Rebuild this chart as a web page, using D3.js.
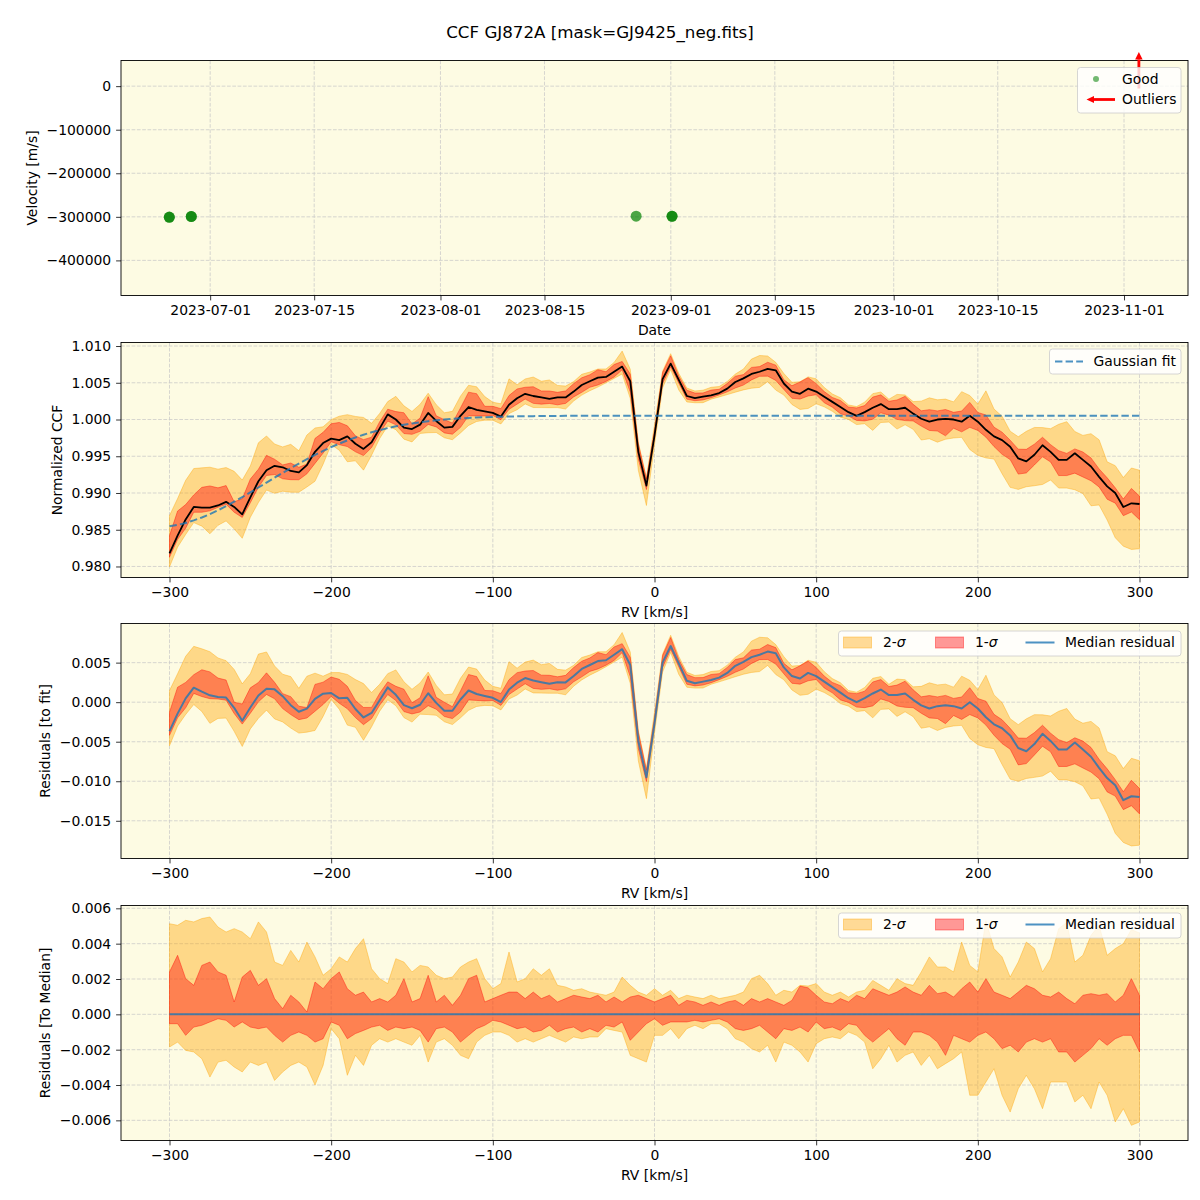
<!DOCTYPE html>
<html><head><meta charset="utf-8">
<script src="https://cdn.jsdelivr.net/npm/d3@7"></script>
<style>body{margin:0;background:#fff} text{font-family:"DejaVu Sans",sans-serif}</style>
</head><body><svg id="c" width="1200" height="1200"></svg>
<script>
// ---------------- DATA ----------------
const rv = [-300,-295,-290,-285,-280,-275,-270,-265,-260,-255,-250,-245,-240,-235,-230,-225,-220,-215,-210,-205,
-200,-195,-190,-185,-180,-175,-170,-165,-160,-155,-150,-145,-140,-135,-130,-125,-120,-115,-110,-105,
-100,-95,-90,-85,-80,-75,-70,-65,-60,-55,-50,-45,-40,-35,-30,-25,-20,-15,-10,-5,
0,5,10,15,20,25,30,35,40,45,50,55,60,65,70,75,80,85,90,95,
100,105,110,115,120,125,130,135,140,145,150,155,160,165,170,175,180,185,190,195,
200,205,210,215,220,225,230,235,240,245,250,255,260,265,270,275,280,285,290,295,300];

const ccfMedian = [0.9818,0.9842,0.9864,0.9881,0.9880,0.9880,0.9883,0.9888,0.9881,0.9871,0.9894,0.9916,0.9931,0.9937,0.9935,0.9930,0.9928,0.9938,0.9956,0.9968,
0.9974,0.9972,0.9977,0.9967,0.9960,0.9969,0.9988,1.0007,1.0000,0.9989,0.9987,0.9993,1.0009,0.9998,0.9989,0.9990,1.0005,1.0017,1.0013,1.0011,
1.0009,1.0004,1.0020,1.0029,1.0035,1.0032,1.0030,1.0028,1.0030,1.0030,1.0038,1.0047,1.0052,1.0057,1.0058,1.0065,1.0072,1.0052,0.9956,0.9910,
0.9978,1.0055,1.0076,1.0054,1.0032,1.0029,1.0031,1.0033,1.0036,1.0042,1.0051,1.0056,1.0062,1.0065,1.0069,1.0067,1.0049,1.0038,1.0035,1.0042,
1.0038,1.0031,1.0024,1.0017,1.0010,1.0005,1.0010,1.0016,1.0021,1.0014,1.0014,1.0016,1.0008,1.0001,0.9997,1.0000,1.0001,1.0000,0.9997,1.0005,
0.9997,0.9986,0.9977,0.9972,0.9963,0.9947,0.9943,0.9952,0.9965,0.9956,0.9945,0.9945,0.9954,0.9945,0.9936,0.9922,0.9909,0.9900,0.9881,0.9886,0.9885];

const gaussFit = [0.98546,0.98565,0.98592,0.98627,0.98667,0.98713,0.98765,0.98821,0.98881,0.98944,0.99008,0.99075,0.99141,0.99208,0.99274,0.99338,0.99401,0.99461,0.99518,0.99572,
0.99624,0.99671,0.99715,0.99756,0.99793,0.99826,0.99856,0.99883,0.99907,0.99928,0.99947,0.99963,0.99977,0.99989,0.99999,1.00008,1.00016,1.00022,1.00027,1.00032,
1.00035,1.00038,1.00041,1.00043,1.00045,1.00046,1.00047,1.00048,1.00049,1.0005,1.0005,1.0005,1.0005,1.0005,1.0005,1.0005,1.0005,1.0005,1.0005,1.0005,
1.0005,1.0005,1.0005,1.0005,1.0005,1.0005,1.0005,1.0005,1.0005,1.0005,1.0005,1.0005,1.0005,1.0005,1.0005,1.0005,1.0005,1.0005,1.0005,1.0005,
1.0005,1.0005,1.0005,1.0005,1.0005,1.0005,1.0005,1.0005,1.0005,1.0005,1.0005,1.0005,1.0005,1.0005,1.0005,1.0005,1.0005,1.0005,1.0005,1.0005,
1.0005,1.0005,1.0005,1.0005,1.0005,1.0005,1.0005,1.0005,1.0005,1.0005,1.0005,1.0005,1.0005,1.0005,1.0005,1.0005,1.0005,1.0005,1.0005,1.0005,1.0005];

// band edges relative to the median (as in the "To Median" panel)
const sig2Upper = [0.00513,0.00504,0.00532,0.00523,0.00542,0.00551,0.00494,0.00466,0.00485,0.00466,0.00428,0.00523,0.00466,0.00296,0.00277,0.00362,0.00296,0.00409,0.00325,0.00221,
0.00258,0.00325,0.00296,0.00372,0.00428,0.00258,0.00202,0.00174,0.00315,0.00296,0.00240,0.00277,0.00268,0.00221,0.00202,0.00211,0.00268,0.00296,0.00315,0.00202,
0.00145,0.00174,0.00353,0.00183,0.00202,0.00258,0.00221,0.00258,0.00164,0.00155,0.00136,0.00145,0.00126,0.00117,0.00108,0.00126,0.00211,0.00164,0.00126,0.00108,
0.00145,0.00108,0.00136,0.00089,0.00108,0.00098,0.00089,0.00108,0.00089,0.00098,0.00108,0.00126,0.00202,0.00221,0.00174,0.00108,0.00136,0.00126,0.00164,0.00160,
0.00174,0.00126,0.00108,0.00126,0.00098,0.00126,0.00136,0.00192,0.00164,0.00136,0.00202,0.00174,0.00164,0.00240,0.00325,0.00268,0.00268,0.00240,0.00409,0.00277,
0.00240,0.00530,0.00372,0.00325,0.00211,0.00296,0.00409,0.00372,0.00240,0.00315,0.00485,0.00520,0.00296,0.00334,0.00447,0.00504,0.00334,0.00372,0.00400,0.00480,0.00460];
const sig1Upper = [0.00240,0.00334,0.00202,0.00164,0.00277,0.00296,0.00240,0.00221,0.00070,0.00211,0.00249,0.00164,0.00202,0.00089,0.00032,0.00108,0.00070,0.00013,0.00183,0.00145,
0.00202,0.00240,0.00145,0.00108,0.00126,0.00070,0.00089,0.00070,0.00108,0.00202,0.00070,0.00089,0.00221,0.00070,0.00108,0.00051,0.00108,0.00202,0.00221,0.00070,
0.00089,0.00108,0.00126,0.00126,0.00089,0.00126,0.00089,0.00108,0.00070,0.00089,0.00108,0.00098,0.00089,0.00108,0.00070,0.00098,0.00070,0.00098,0.00108,0.00089,
0.00070,0.00089,0.00108,0.00051,0.00079,0.00070,0.00051,0.00070,0.00051,0.00070,0.00079,0.00051,0.00089,0.00070,0.00089,0.00070,0.00051,0.00079,0.00160,0.00150,
0.00108,0.00070,0.00060,0.00089,0.00070,0.00108,0.00089,0.00145,0.00126,0.00108,0.00126,0.00155,0.00126,0.00108,0.00164,0.00117,0.00126,0.00098,0.00145,0.00183,
0.00126,0.00202,0.00126,0.00108,0.00089,0.00126,0.00164,0.00145,0.00108,0.00098,0.00126,0.00089,0.00060,0.00108,0.00117,0.00108,0.00117,0.00070,0.00108,0.00202,0.00108];
const sig1Lower = [-0.00053,-0.00053,-0.00119,-0.00072,-0.00062,-0.00043,-0.00025,-0.00034,-0.00072,-0.00043,-0.00072,-0.00081,-0.00072,-0.00119,-0.00157,-0.00119,-0.00100,-0.00119,-0.00157,-0.00138,
-0.00043,-0.00062,-0.00138,-0.00109,-0.00091,-0.00072,-0.00062,-0.00091,-0.00072,-0.00081,-0.00072,-0.00091,-0.00157,-0.00081,-0.00072,-0.00100,-0.00157,-0.00119,-0.00081,-0.00062,
-0.00034,-0.00043,-0.00062,-0.00081,-0.00072,-0.00100,-0.00091,-0.00062,-0.00100,-0.00081,-0.00072,-0.00100,-0.00081,-0.00100,-0.00062,-0.00072,-0.00043,-0.00147,-0.00100,-0.00053,
-0.00025,-0.00062,-0.00043,-0.00043,-0.00043,-0.00034,-0.00043,-0.00034,-0.00025,-0.00043,-0.00081,-0.00091,-0.00081,-0.00062,-0.00100,-0.00138,-0.00081,-0.00091,-0.00072,-0.00100,
-0.00043,-0.00081,-0.00072,-0.00091,-0.00053,-0.00062,-0.00119,-0.00157,-0.00119,-0.00081,-0.00138,-0.00175,-0.00100,-0.00100,-0.00119,-0.00157,-0.00232,-0.00119,-0.00138,-0.00157,
-0.00119,-0.00100,-0.00138,-0.00194,-0.00175,-0.00213,-0.00157,-0.00138,-0.00157,-0.00138,-0.00213,-0.00213,-0.00270,-0.00232,-0.00194,-0.00138,-0.00175,-0.00138,-0.00119,-0.00119,-0.00213];
const sig2Lower = [-0.00185,-0.00157,-0.00204,-0.00213,-0.00251,-0.00355,-0.00270,-0.00260,-0.00298,-0.00326,-0.00270,-0.00289,-0.00270,-0.00374,-0.00326,-0.00289,-0.00270,-0.00298,-0.00400,-0.00289,
-0.00081,-0.00138,-0.00345,-0.00232,-0.00289,-0.00175,-0.00138,-0.00157,-0.00138,-0.00157,-0.00175,-0.00119,-0.00270,-0.00157,-0.00138,-0.00175,-0.00232,-0.00251,-0.00157,-0.00119,
-0.00100,-0.00100,-0.00119,-0.00157,-0.00138,-0.00157,-0.00138,-0.00119,-0.00138,-0.00157,-0.00128,-0.00138,-0.00128,-0.00128,-0.00081,-0.00091,-0.00100,-0.00232,-0.00251,-0.00270,
-0.00119,-0.00119,-0.00081,-0.00138,-0.00081,-0.00062,-0.00081,-0.00053,-0.00053,-0.00081,-0.00138,-0.00157,-0.00194,-0.00213,-0.00175,-0.00270,-0.00157,-0.00175,-0.00213,-0.00270,
-0.00166,-0.00138,-0.00128,-0.00138,-0.00100,-0.00119,-0.00157,-0.00308,-0.00251,-0.00175,-0.00270,-0.00232,-0.00213,-0.00289,-0.00232,-0.00308,-0.00279,-0.00251,-0.00213,-0.00458,
-0.00458,-0.00383,-0.00308,-0.00458,-0.00553,-0.00421,-0.00345,-0.00421,-0.00534,-0.00383,-0.00383,-0.00383,-0.00496,-0.00458,-0.00534,-0.00383,-0.00458,-0.00609,-0.00534,-0.00628,-0.00609];

const obsDates = ["2023-06-25T12:00:00Z","2023-06-25T12:00:00Z","2023-06-28T11:00:00Z","2023-06-28T11:00:00Z","2023-08-27T08:00:00Z","2023-09-01T04:00:00Z","2023-09-01T04:00:00Z"];
const obsVelocity = [-301000,-300600,-299000,-299400,-298600,-298800,-298400];
const outlierDates = ["2023-11-03T00:00:00Z"];

const dateTicks = ["2023-07-01","2023-07-15","2023-08-01","2023-08-15","2023-09-01","2023-09-15","2023-10-01","2023-10-15","2023-11-01"];
const velTicks = [0,-100000,-200000,-300000,-400000];
const rvTicks = [-300,-200,-100,0,100,200,300];
const ccfTicks = [0.980,0.985,0.990,0.995,1.000,1.005,1.010];
const resFitTicks = [-0.015,-0.010,-0.005,0.000,0.005];
const resMedTicks = [-0.006,-0.004,-0.002,0.000,0.002,0.004,0.006];

// ---------------- LAYOUT ----------------
const svg = d3.select("#c");
const L = 121, R = 1188, H = 235;
const tops = [60.5, 342.5, 623.5, 905.5];
const BG = "#fdfbe3";
const FS = 13.9;
const C2 = "#ffa500", C1 = "#ff0000", BLUE = "#1f77b4";

svg.append("text").attr("x", 600).attr("y", 32).attr("dy", "0.35em").attr("text-anchor", "middle")
  .attr("font-size", 16.7).text("CCF GJ872A [mask=GJ9425_neg.fits]");

const xRV = d3.scaleLinear().domain([-330, 330]).range([L, R]);

function panel(i, x, y, xt, yt, xfmt, yfmt, ylabel, xlabel, yLabelX) {
  const top = tops[i], bot = top + H;
  const g = svg.append("g");
  g.append("rect").attr("x", L).attr("y", top).attr("width", R - L).attr("height", H).attr("fill", BG);
  const grid = g.append("g").attr("stroke", "#c8c8c8").attr("stroke-width", 0.8).attr("stroke-dasharray", "3.7,1.6").attr("opacity", 0.9);
  xt.forEach(t => grid.append("line").attr("x1", x(t)).attr("x2", x(t)).attr("y1", top).attr("y2", bot));
  yt.forEach(t => grid.append("line").attr("y1", y(t)).attr("y2", y(t)).attr("x1", L).attr("x2", R));
  const clipId = "clip" + i;
  svg.append("clipPath").attr("id", clipId).append("rect").attr("x", L).attr("y", top).attr("width", R - L).attr("height", H);
  const data = g.append("g").attr("clip-path", `url(#${clipId})`);
  const ax = g.append("g").attr("transform", `translate(0,${bot})`).call(d3.axisBottom(x).tickValues(xt).tickFormat(xfmt).tickSize(4.9).tickPadding(4.9));
  const ay = g.append("g").attr("transform", `translate(${L},0)`).call(d3.axisLeft(y).tickValues(yt).tickFormat(yfmt).tickSize(4.9).tickPadding(4.9));
  [ax, ay].forEach(a => {
    a.select(".domain").remove();
    a.attr("font-family", null).attr("font-size", null);
    a.selectAll("text").attr("font-size", FS).attr("fill", "#000");
    a.selectAll("line").attr("stroke", "#000").attr("stroke-width", 0.8);
  });
  svg.append("rect").attr("x", L).attr("y", top).attr("width", R - L).attr("height", H)
    .attr("fill", "none").attr("stroke", "#000").attr("stroke-width", 0.9);
  svg.append("text").attr("transform", `translate(${yLabelX},${top + H / 2}) rotate(-90)`).attr("dy", "0.35em")
    .attr("text-anchor", "middle").attr("font-size", FS).text(ylabel);
  svg.append("text").attr("x", (L + R) / 2).attr("y", bot + 35).attr("dy", "0.35em")
    .attr("text-anchor", "middle").attr("font-size", FS).text(xlabel);
  return { g, data, top, bot };
}

function legendBox(x0, y0, w, h) {
  return svg.append("rect").attr("x", x0).attr("y", y0).attr("width", w).attr("height", h).attr("rx", 3)
    .attr("fill", "#fff").attr("fill-opacity", 0.8).attr("stroke", "#cccccc").attr("stroke-width", 0.8);
}

// ---------------- PANEL 1: velocities ----------------
const parse = s => new Date(s);
const xDate = d3.scaleUtc().domain([new Date(Date.UTC(2023, 5, 19, 0, 0)), new Date(Date.UTC(2023, 10, 9, 14, 40))]).range([L, R]);
const yVel = d3.scaleLinear().domain([-480600, 58900]).range([tops[0] + H, tops[0]]);
const dTicks = dateTicks.map(s => new Date(s + "T00:00:00Z"));
const p1 = panel(0, xDate, yVel, dTicks, velTicks, d => d3.utcFormat("%Y-%m-%d")(d), d3.format("d"), "Velocity [m/s]", "Date", 32);
p1.data.selectAll("circle.obs").data(obsDates.map((d, k) => ({ t: parse(d), v: obsVelocity[k] }))).join("circle")
  .attr("cx", d => xDate(d.t)).attr("cy", d => yVel(d.v)).attr("r", 5.5).attr("fill", "green").attr("fill-opacity", 0.7);

function arrow(sel, x1, y1, x2, y2, hl, hw, sw) {
  const ang = Math.atan2(y2 - y1, x2 - x1);
  const bx = x2 - hl * Math.cos(ang), by = y2 - hl * Math.sin(ang);
  sel.append("line").attr("x1", x1).attr("y1", y1).attr("x2", bx).attr("y2", by).attr("stroke", "red").attr("stroke-width", sw);
  const px = -Math.sin(ang) * hw / 2, py = Math.cos(ang) * hw / 2;
  sel.append("path").attr("d", `M${x2},${y2}L${bx + px},${by + py}L${bx - px},${by - py}Z`).attr("fill", "red");
}
const arrG = svg.append("g");
outlierDates.forEach(d => arrow(arrG, xDate(parse(d)), tops[0] + 28, xDate(parse(d)), tops[0] - 8.5, 7.5, 7.5, 2.8));

legendBox(1077.5, 67.5, 103.5, 45.5);
svg.append("circle").attr("cx", 1096).attr("cy", 79).attr("r", 3).attr("fill", "green").attr("fill-opacity", 0.55);
arrow(svg, 1115, 99.5, 1086.5, 99.5, 7.5, 7, 2.8);
svg.append("text").attr("x", 1122).attr("y", 79).attr("dy", "0.35em").attr("font-size", FS).text("Good");
svg.append("text").attr("x", 1122).attr("y", 99.5).attr("dy", "0.35em").attr("font-size", FS).text("Outliers");

// ---------------- helpers for bands ----------------
function drawBands(sel, x, y, lo2, hi2, lo1, hi1) {
  const a2 = d3.area().x((d, k) => x(rv[k])).y0((d, k) => y(lo2[k])).y1((d, k) => y(hi2[k]));
  const a1 = d3.area().x((d, k) => x(rv[k])).y0((d, k) => y(lo1[k])).y1((d, k) => y(hi1[k]));
  sel.append("path").attr("d", a2(rv)).attr("fill", C2).attr("fill-opacity", 0.4).attr("stroke", C2).attr("stroke-opacity", 0.4).attr("stroke-width", 1);
  sel.append("path").attr("d", a1(rv)).attr("fill", C1).attr("fill-opacity", 0.4).attr("stroke", C1).attr("stroke-opacity", 0.4).attr("stroke-width", 1);
}
function lineOf(sel, x, y, vals, color, width, opacity, dash) {
  const ln = d3.line().x((d, k) => x(rv[k])).y(d => y(d));
  const p = sel.append("path").attr("d", ln(vals)).attr("fill", "none").attr("stroke", color).attr("stroke-width", width).attr("stroke-opacity", opacity).attr("stroke-linejoin", "round");
  if (dash) p.attr("stroke-dasharray", dash);
}

// ---------------- PANEL 2: CCF ----------------
const yCCF = d3.scaleLinear().domain([0.97850, 1.01048]).range([tops[1] + H, tops[1]]);
const p2 = panel(1, xRV, yCCF, rvTicks, ccfTicks, d3.format("d"), d3.format(".3f"), "Normalized CCF", "RV [km/s]", 57);
drawBands(p2.data, xRV, yCCF,
  ccfMedian.map((m, k) => m + sig2Lower[k]), ccfMedian.map((m, k) => m + sig2Upper[k]),
  ccfMedian.map((m, k) => m + sig1Lower[k]), ccfMedian.map((m, k) => m + sig1Upper[k]));
lineOf(p2.data, xRV, yCCF, ccfMedian, "#000", 1.8, 1);
lineOf(p2.data, xRV, yCCF, gaussFit, BLUE, 2, 0.8, "7.4,3.2");
legendBox(1049.5, 349, 131.5, 25);
svg.append("line").attr("x1", 1055).attr("x2", 1083).attr("y1", 361.5).attr("y2", 361.5).attr("stroke", BLUE).attr("stroke-opacity", 0.8).attr("stroke-width", 2).attr("stroke-dasharray", "7.4,3.2");
svg.append("text").attr("x", 1093.5).attr("y", 361.5).attr("dy", "0.35em").attr("font-size", FS).text("Gaussian fit");

function sigmaLegend(top) {
  const cy = top + 19;
  legendBox(838.5, top + 7.5, 342.5, 25);
  svg.append("rect").attr("x", 843.5).attr("y", cy - 5.5).attr("width", 28).attr("height", 11).attr("fill", C2).attr("fill-opacity", 0.4).attr("stroke", C2).attr("stroke-opacity", 0.4);
  svg.append("rect").attr("x", 935.5).attr("y", cy - 5.5).attr("width", 28).attr("height", 11).attr("fill", C1).attr("fill-opacity", 0.4).attr("stroke", C1).attr("stroke-opacity", 0.4);
  svg.append("line").attr("x1", 1025.5).attr("x2", 1054.5).attr("y1", cy).attr("y2", cy).attr("stroke", BLUE).attr("stroke-opacity", 0.8).attr("stroke-width", 2);
  const t1 = svg.append("text").attr("x", 883).attr("y", cy).attr("dy", "0.35em").attr("font-size", FS);
  t1.append("tspan").text("2-"); t1.append("tspan").attr("font-style", "italic").text("σ");
  const t2 = svg.append("text").attr("x", 975).attr("y", cy).attr("dy", "0.35em").attr("font-size", FS);
  t2.append("tspan").text("1-"); t2.append("tspan").attr("font-style", "italic").text("σ");
  svg.append("text").attr("x", 1065).attr("y", cy).attr("dy", "0.35em").attr("font-size", FS).text("Median residual");
}

// ---------------- PANEL 3: residuals to fit ----------------
const yRF = d3.scaleLinear().domain([-0.01977, 0.00995]).range([tops[2] + H, tops[2]]);
const p3 = panel(2, xRV, yRF, rvTicks, resFitTicks, d3.format("d"), d3.format(".3f"), "Residuals [to fit]", "RV [km/s]", 45);
const resFit = ccfMedian.map((m, k) => m - gaussFit[k]);
drawBands(p3.data, xRV, yRF,
  resFit.map((r, k) => r + sig2Lower[k]), resFit.map((r, k) => r + sig2Upper[k]),
  resFit.map((r, k) => r + sig1Lower[k]), resFit.map((r, k) => r + sig1Upper[k]));
lineOf(p3.data, xRV, yRF, resFit, BLUE, 2, 0.8);
sigmaLegend(tops[2]);

// ---------------- PANEL 4: residuals to median ----------------
const yRM = d3.scaleLinear().domain([-0.00714, 0.00616]).range([tops[3] + H, tops[3]]);
const p4 = panel(3, xRV, yRM, rvTicks, resMedTicks, d3.format("d"), d3.format(".3f"), "Residuals [To Median]", "RV [km/s]", 45);
const resMed = ccfMedian.map(m => m - m);
drawBands(p4.data, xRV, yRM, sig2Lower, sig2Upper, sig1Lower, sig1Upper);
lineOf(p4.data, xRV, yRM, resMed, BLUE, 2, 0.8);
sigmaLegend(tops[3]);
</script></body></html>
